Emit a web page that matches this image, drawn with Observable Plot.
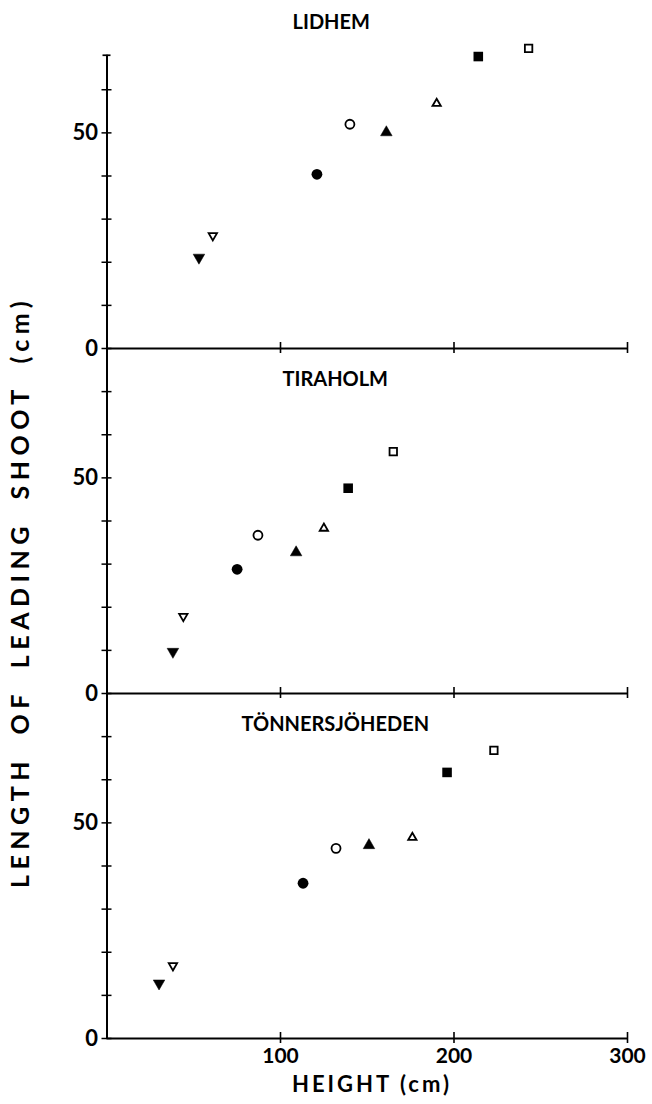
<!DOCTYPE html>
<html>
<head>
<meta charset="utf-8">
<script src="https://cdn.jsdelivr.net/npm/d3@7"></script>
<script src="https://cdn.jsdelivr.net/npm/@observablehq/plot@0.6"></script>
<style>
  html, body { margin: 0; padding: 0; background: #fff; }
  #chart svg { display: block; }
</style>
</head>
<body>
<div id="chart"></div>
<script>
// ---- data ----
const sites = ["LIDHEM", "TIRAHOLM", "TÖNNERSJÖHEDEN"];
const markers = ["filledDown", "openDown", "filledCircle", "openCircle", "filledUp", "openUp", "filledSquare", "openSquare"];

const heightLidhem = [53, 61, 121, 140, 161, 190, 214, 243];
const shootLidhem  = [21.1, 26.2, 40.4, 52.0, 50.1, 56.8, 67.7, 69.6];

const heightTiraholm = [38, 44, 75, 87, 109, 125, 139, 165];
const shootTiraholm  = [9.7, 17.9, 28.8, 36.7, 32.7, 38.3, 47.6, 56.1];

const heightTonners = [30, 38, 113, 132, 151, 176, 196, 223];
const shootTonners  = [12.8, 16.9, 36.0, 44.1, 44.8, 46.6, 61.7, 66.8];

const xTicks = [100, 200, 300];
const yTicksMinor = [0, 10, 20, 30, 40, 50, 60, 70];
const yTickLabels = [0, 50];

const xLabel = "HEIGHT (cm)";
const yLabel = "LENGTH OF LEADING SHOOT (cm)";

// ---- table ----
const heights = [heightLidhem, heightTiraholm, heightTonners];
const shoots = [shootLidhem, shootTiraholm, shootTonners];
const rows = sites.flatMap((site, s) =>
  markers.map((m, i) => ({site, marker: m, height: heights[s][i], shoot: shoots[s][i]})));

// custom downward triangle
const triangleDown = {
  draw(context, size) {
    const y = -Math.sqrt(size / (Math.sqrt(3) * 3));
    context.moveTo(0, -y * 2);
    context.lineTo(-Math.sqrt(3) * y, y);
    context.lineTo(Math.sqrt(3) * y, y);
    context.closePath();
  }
};

const styles = {
  filledDown:   {symbol: triangleDown, r: 4.3, fill: "black", stroke: "black", strokeWidth: 0.5},
  openDown:     {symbol: triangleDown, r: 3.1, fill: "white", stroke: "black", strokeWidth: 1.8},
  filledCircle: {symbol: "circle", r: 5.4, fill: "black", stroke: "none"},
  openCircle:   {symbol: "circle", r: 4.5, fill: "white", stroke: "black", strokeWidth: 1.8},
  filledUp:     {symbol: "triangle", r: 4.3, fill: "black", stroke: "black", strokeWidth: 0.5},
  openUp:       {symbol: "triangle", r: 3.1, fill: "white", stroke: "black", strokeWidth: 1.8},
  filledSquare: {symbol: "square", r: 5.4, fill: "black", stroke: "none"},
  openSquare:   {symbol: "square", r: 4.2, fill: "white", stroke: "black", strokeWidth: 1.8}
};

const font = "Lato, 'DejaVu Sans', sans-serif";

const dotMarks = markers.map(m => Plot.dot(rows.filter(d => d.marker === m), {
  x: "height", y: "shoot", fy: "site", ...styles[m]
}));

const chart = Plot.plot({
  width: 652,
  height: 1104,
  marginTop: 3,
  marginBottom: 66,
  marginLeft: 106.5,
  marginRight: 25,
  style: {fontFamily: font, background: "white", overflow: "visible"},
  x: {domain: [0, 300], axis: null},
  y: {domain: [0, 80], axis: null},
  fy: {domain: sites, padding: 0, axis: null},
  marks: [
    // x axis line in each panel
    Plot.ruleY([0], {stroke: "black", strokeWidth: 2}),
    // x ticks crossing the axis
    Plot.ruleX(xTicks, {x: d => d, y1: 0, y2: 0, insetTop: -6, insetBottom: -5, stroke: "black", strokeWidth: 1.6}),
    // y axis line
    Plot.ruleX(sites, {x: 0, y1: 0, y2: s => s === sites[0] ? 68 : 80, fy: s => s, stroke: "black", strokeWidth: 2}),
    // y ticks crossing the axis
    Plot.ruleY(sites.flatMap(s => yTicksMinor.filter(t => s !== sites[0] || t <= 60).map(t => ({s, t}))),
      {y: "t", fy: "s", x1: 0, x2: 0, insetLeft: -5, insetRight: -5, stroke: "black", strokeWidth: 1.5}),
    // cap at the top of the axis
    Plot.ruleY([sites[0]], {y: () => 68, fy: s => s, x1: 0, x2: 0, insetLeft: -4, insetRight: -4, stroke: "black", strokeWidth: 1.7}),
    // y tick labels
    Plot.text(yTickLabels, {y: d => d, text: d => String(d), frameAnchor: "left", textAnchor: "end", dx: -9,
      fontSize: 22, fontWeight: 700, fill: "black"}),
    // x tick labels in bottom panel
    Plot.text(xTicks, {x: d => d, text: d => String(d), fy: () => sites[2], frameAnchor: "bottom", lineAnchor: "middle", dy: 18,
      fontSize: 21, fontWeight: 700, fill: "black"}),
    // panel titles
    Plot.text([sites[0]], {text: d => d, fy: d => d, frameAnchor: "top", lineAnchor: "middle", dy: 19, dx: -36,
      fontSize: 20, fontWeight: 700, fill: "black", letterSpacing: "2px"}),
    Plot.text(sites.slice(1), {text: d => d, fy: d => d, frameAnchor: "top", lineAnchor: "middle", dy: 31, dx: -32,
      fontSize: 20, fontWeight: 700, fill: "black", letterSpacing: "1.5px"}),
    ...dotMarks
  ]
});

document.getElementById("chart").appendChild(chart);

// axis titles
const svg = d3.select(chart);
svg.append("text")
  .attr("transform", "translate(23,592) rotate(-90)")
  .attr("text-anchor", "middle")
  .attr("dominant-baseline", "middle")
  .attr("font-family", font)
  .attr("font-size", 25)
  .attr("font-weight", 700)
  .attr("letter-spacing", "5.5px")
  .attr("word-spacing", "10px")
  .attr("fill", "black")
  .text(yLabel);
svg.append("text")
  .attr("x", 372)
  .attr("y", 1086)
  .attr("text-anchor", "middle")
  .attr("dominant-baseline", "middle")
  .attr("font-family", font)
  .attr("font-size", 22)
  .attr("font-weight", 700)
  .attr("letter-spacing", "3px")
  .attr("fill", "black")
  .text(xLabel);
</script>
</body>
</html>
